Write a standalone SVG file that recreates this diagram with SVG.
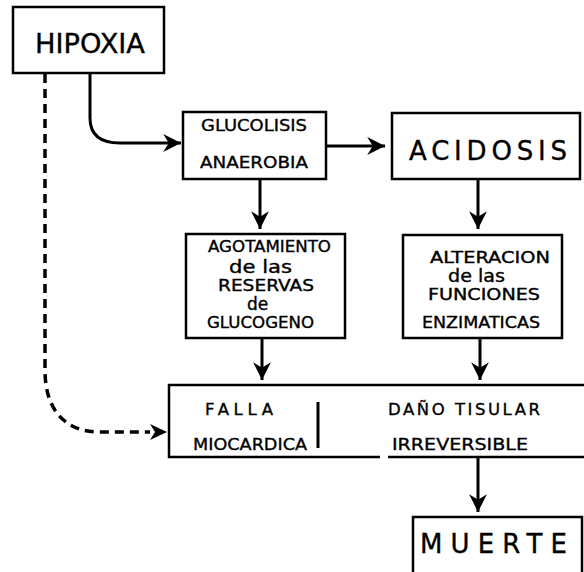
<svg xmlns="http://www.w3.org/2000/svg" width="584" height="572" viewBox="0 0 584 572">
  <style>
    .box { fill: #fff; stroke: #000; stroke-width: 2.5; }
    .line { fill: none; stroke: #000; stroke-width: 3; }
    .dash { fill: none; stroke: #000; stroke-width: 3.5; stroke-dasharray: 9 6; }
    text { font-family: "DejaVu Sans", "Liberation Sans", sans-serif; fill: #000; stroke: #000; stroke-width: 0.35; }
    .big { font-size: 26px; }
    .mid { font-size: 16.5px; }
    .sm { font-size: 15px; }
    .lc { font-size: 17px; }
  </style>
  <defs>
    <marker id="head" markerUnits="userSpaceOnUse" markerWidth="20" markerHeight="20" viewBox="-17 -9 18 18" refX="0" refY="0" orient="auto">
      <path d="M0,0 L-16,-8 L-11,0 L-16,8 Z" fill="#000"/>
    </marker>
  </defs>

  <g id="connectors">
    <path class="dash" d="M45,74 L45,370 C45,410 65,432 100,432 L150,432"/>
    <path d="M167,432 L150,424 L155,432 L150,440 Z" fill="#000"/>
    <path class="line" d="M90,74 L90,118 C90,135 100,143 120,143 L181,143" marker-end="url(#head)"/>
    <path class="line" d="M326,146 L385,146" marker-end="url(#head)"/>
    <path class="line" d="M260,180 L260,229" marker-end="url(#head)"/>
    <path class="line" d="M478,180 L478,229" marker-end="url(#head)"/>
    <path class="line" d="M262,339 L262,380" marker-end="url(#head)"/>
    <path class="line" d="M480,339 L480,380" marker-end="url(#head)"/>
    <path class="line" d="M478,458 L478,512" marker-end="url(#head)"/>
  </g>

  <g id="hipoxia">
    <rect class="box" x="13" y="7" width="151" height="66"/>
    <text class="big" x="35" y="53" textLength="110" lengthAdjust="spacingAndGlyphs">HIPOXIA</text>
  </g>

  <g id="glucolisis">
    <rect class="box" x="183" y="112" width="143" height="67"/>
    <text class="mid" x="201" y="131" textLength="106" lengthAdjust="spacingAndGlyphs">GLUCOLISIS</text>
    <text class="mid" x="200" y="168" textLength="108" lengthAdjust="spacingAndGlyphs">ANAEROBIA</text>
  </g>

  <g id="acidosis">
    <rect class="box" x="392" y="113" width="188" height="66"/>
    <text class="big" x="409" y="160" textLength="158" lengthAdjust="spacing">ACIDOSIS</text>
  </g>

  <g id="agotamiento">
    <rect class="box" x="186" y="234" width="159" height="104"/>
    <text class="sm" x="208" y="252" textLength="123" lengthAdjust="spacingAndGlyphs">AGOTAMIENTO</text>
    <text class="lc" x="229" y="273" textLength="63" lengthAdjust="spacingAndGlyphs">de  las</text>
    <text class="sm" x="218" y="291" textLength="96" lengthAdjust="spacingAndGlyphs">RESERVAS</text>
    <text class="lc" x="247" y="310">de</text>
    <text class="sm" x="207" y="328" textLength="107" lengthAdjust="spacingAndGlyphs">GLUCOGENO</text>
  </g>

  <g id="alteracion">
    <rect class="box" x="403" y="235" width="159" height="103"/>
    <text class="sm" x="430" y="263" textLength="120" lengthAdjust="spacingAndGlyphs">ALTERACION</text>
    <text class="lc" x="448" y="282" textLength="57" lengthAdjust="spacingAndGlyphs">de  las</text>
    <text class="sm" x="428" y="300" textLength="112" lengthAdjust="spacingAndGlyphs">FUNCIONES</text>
    <text class="sm" x="422" y="328" textLength="118" lengthAdjust="spacingAndGlyphs">ENZIMATICAS</text>
  </g>

  <g id="falla">
    <path class="box" d="M600,385 L169,385 L169,457 L380,457 M388,457 L600,457" fill="none"/>
    <line x1="318" y1="402" x2="318" y2="448" stroke="#000" stroke-width="3"/>
    <text class="mid" x="205" y="415" textLength="68" lengthAdjust="spacing">FALLA</text>
    <text class="mid" x="193" y="450" textLength="114" lengthAdjust="spacingAndGlyphs">MIOCARDICA</text>
    <text class="mid" x="388" y="415" textLength="152" lengthAdjust="spacing">DAÑO  TISULAR</text>
    <text class="mid" x="392" y="450" textLength="136" lengthAdjust="spacingAndGlyphs">IRREVERSIBLE</text>
  </g>

  <g id="muerte">
    <path class="box" d="M413,580 L413,517 L582,517 L582,580" fill="none"/>
    <text class="big" x="420" y="553" textLength="147" lengthAdjust="spacing">MUERTE</text>
  </g>
</svg>
